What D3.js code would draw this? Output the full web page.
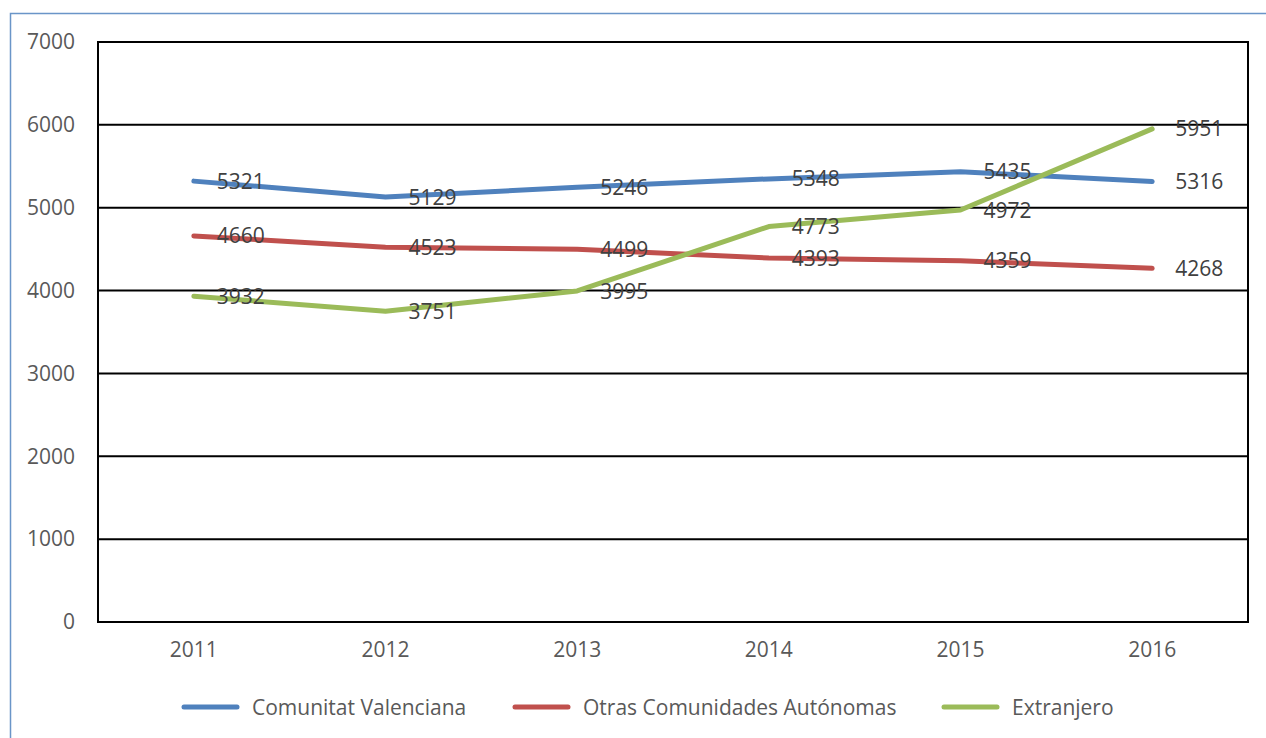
<!DOCTYPE html>
<html><head><meta charset="utf-8">
<script src="https://cdn.jsdelivr.net/npm/d3@7"></script>
<style>html,body{margin:0;padding:0;background:#fff;overflow:hidden}</style>
</head><body>
<svg id="c" width="1266" height="738"></svg>
<script>
const years = ["2011","2012","2013","2014","2015","2016"];
const comunitatValenciana = [5321, 5129, 5246, 5348, 5435, 5316];
const otrasComunidades = [4660, 4523, 4499, 4393, 4359, 4268];
const extranjero = [3932, 3751, 3995, 4773, 4972, 5951];
const yTicks = [0, 1000, 2000, 3000, 4000, 5000, 6000, 7000];
const seriesNames = ["Comunitat Valenciana", "Otras Comunidades Autónomas", "Extranjero"];
const seriesColors = ["#4F81BD", "#C0504D", "#9BBB59"];

const series = [comunitatValenciana, otrasComunidades, extranjero].map((v, i) => ({name: seriesNames[i], color: seriesColors[i], values: v}));

const svg = d3.select("#c");
const font = "'Open Sans', 'Liberation Sans', sans-serif";

// outer frame
svg.append("path").attr("d", "M10.5,738 L10.5,13.5 L1266,13.5").attr("fill", "none")
  .attr("stroke", "#6A95C8").attr("stroke-width", 1.5);

const L = 98, R = 1248, T = 42, B = 622;
const x = d3.scaleBand().domain(years).range([L, R]);
const y = d3.scaleLinear().domain([0, 7000]).range([B, T]);

// gridlines
svg.append("g").selectAll("line").data(yTicks).join("line")
  .attr("x1", L).attr("x2", R).attr("y1", d => y(d)).attr("y2", d => y(d))
  .attr("stroke", "#000").attr("stroke-width", 2);
// plot border
svg.append("rect").attr("x", L).attr("y", T).attr("width", R - L).attr("height", B - T)
  .attr("fill", "none").attr("stroke", "#000").attr("stroke-width", 2);

// y axis labels
const yAxis = d3.axisLeft(y).tickValues(yTicks).tickSize(0).tickPadding(23).tickFormat(d3.format("d"));
const ga = svg.append("g").attr("transform", `translate(${L},0)`).call(yAxis);
ga.select(".domain").remove();
ga.selectAll("text").attr("font-family", font).attr("font-size", 21).attr("fill", "#595959");

// x axis labels
const xAxis = d3.axisBottom(x).tickSize(0).tickPadding(20);
const gx = svg.append("g").attr("transform", `translate(0,${B})`).call(xAxis);
gx.select(".domain").remove();
gx.selectAll("text").attr("font-family", font).attr("font-size", 21).attr("fill", "#595959");

const cx = d => x(d) + x.bandwidth() / 2;
const line = d3.line().x((d, i) => cx(years[i])).y(d => y(d));

series.forEach(s => {
  svg.append("path").datum(s.values).attr("d", line).attr("fill", "none")
    .attr("stroke", s.color).attr("stroke-width", 5).attr("stroke-linecap", "round").attr("stroke-linejoin", "round");
});
series.forEach(s => {
  svg.append("g").selectAll("text").data(s.values).join("text")
    .attr("x", (d, i) => cx(years[i]) + 23).attr("y", d => y(d)).attr("dy", "0.36em")
    .attr("font-family", font).attr("font-size", 21).attr("fill", "#404040").text(d => d);
});

// legend
const legendX = [182, 513, 942];
const lg = svg.append("g");
series.forEach((s, i) => {
  lg.append("line").attr("x1", legendX[i] + 2).attr("x2", legendX[i] + 55).attr("y1", 707).attr("y2", 707)
    .attr("stroke", s.color).attr("stroke-width", 5).attr("stroke-linecap", "round");
  lg.append("text").attr("x", legendX[i] + 70).attr("y", 707).attr("dy", "0.36em")
    .attr("font-family", font).attr("font-size", 21).attr("fill", "#595959").text(s.name);
});
</script>
</body></html>
